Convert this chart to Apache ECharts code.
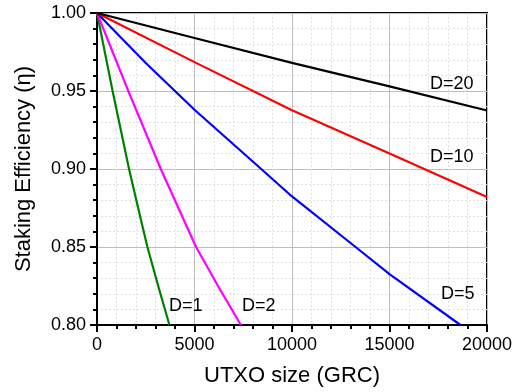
<!DOCTYPE html>
<html>
<head>
<meta charset="utf-8">
<script src="https://cdn.jsdelivr.net/npm/echarts@6/dist/echarts.min.js"></script>
<style>html,body{margin:0;padding:0;background:#fff}#c{width:528px;height:392px}</style>
</head>
<body>
<div id="c"></div>
<script>
// Data: [UTXO size (GRC), staking efficiency]
var seriesNames = ['D=1', 'D=2', 'D=5', 'D=10', 'D=20'];
var d1 = [[0, 1], [800, 0.95], [1643, 0.90], [2110, 0.875], [2585, 0.85], [3150, 0.8245], [3714, 0.80]];
var d2 = [[0, 1], [1640, 0.949], [2173, 0.933], [3271, 0.90], [5080, 0.85], [6250, 0.824], [7380, 0.80]];
var d5 = [[0, 1], [2500, 0.968], [5000, 0.938], [8420, 0.90], [10000, 0.8824], [13260, 0.85], [15000, 0.8326], [18640, 0.80]];
var d10 = [[0, 1], [5000, 0.9685], [10000, 0.9376], [15000, 0.910], [20000, 0.882]];
var d20 = [[0, 1], [5000, 0.984], [10000, 0.968], [15000, 0.953], [20000, 0.9375]];
var xTicks = [0, 5000, 10000, 15000, 20000];
var yTicks = [0.80, 0.85, 0.90, 0.95, 1.00];

var colors = ['#008000', '#ff00ff', '#0000ff', '#ff0000', '#000000'];
var allData = [d1, d2, d5, d10, d20];
var FONT = '"Liberation Sans", Arial, sans-serif';

var chart = echarts.init(document.getElementById('c'), null, {renderer: 'canvas'});
var series = allData.map(function (d, i) {
  return {
    name: seriesNames[i], type: 'line', data: d, showSymbol: false,
    lineStyle: {color: colors[i], width: 2.2, join: 'round'}, itemStyle: {color: colors[i]},
    smooth: false, animation: false, z: 5
  };
});

var labelPos = [[169, 297], [242, 297], [441, 285], [430, 148], [430, 75]];
var graphics = seriesNames.map(function (n, i) {
  return {type: 'text', left: labelPos[i][0], top: labelPos[i][1], z: 10,
    style: {text: n, font: '18px ' + FONT, fill: '#000'}};
});

chart.setOption({
  animation: false,
  backgroundColor: '#fff',
  grid: {left: 97, right: 41, top: 13, bottom: 66, show: true, borderColor: '#000', borderWidth: 2, backgroundColor: 'transparent'},
  xAxis: {
    type: 'value', min: xTicks[0], max: xTicks[xTicks.length - 1], interval: 5000,
    name: 'UTXO size (GRC)', nameLocation: 'middle', nameGap: 40,
    nameTextStyle: {fontSize: 22, fontFamily: FONT, color: '#000'},
    axisLine: {show: true, onZero: false, lineStyle: {color: '#000', width: 2}},
    axisTick: {show: true, length: 7, lineStyle: {color: '#000', width: 2}},
    minorTick: {show: true, splitNumber: 5, length: 4, lineStyle: {color: '#000', width: 2}},
    axisLabel: {fontSize: 18, fontFamily: FONT, color: '#000', margin: 11,
      formatter: function (v) { return String(v); }},
    splitLine: {show: true, lineStyle: {color: '#bdbdbd', width: 1}},
    minorSplitLine: {show: true, lineStyle: {color: '#e2e2e2', width: 1, type: [2, 2]}}
  },
  yAxis: {
    type: 'value', min: yTicks[0], max: yTicks[yTicks.length - 1], interval: 0.05,
    name: 'Staking Efficiency (\u03b7)', nameLocation: 'middle', nameGap: 62,
    nameTextStyle: {fontSize: 22, fontFamily: FONT, color: '#000'},
    axisLine: {show: true, onZero: false, lineStyle: {color: '#000', width: 2}},
    axisTick: {show: true, length: 7, lineStyle: {color: '#000', width: 2}},
    minorTick: {show: true, splitNumber: 5, length: 4, lineStyle: {color: '#000', width: 2}},
    axisLabel: {fontSize: 18, fontFamily: FONT, color: '#000', margin: 11,
      formatter: function (v) { return v.toFixed(2); }},
    splitLine: {show: true, lineStyle: {color: '#bdbdbd', width: 1}},
    minorSplitLine: {show: true, lineStyle: {color: '#e2e2e2', width: 1, type: [2, 2]}}
  },
  series: series,
  graphic: graphics
});
</script>
</body>
</html>
